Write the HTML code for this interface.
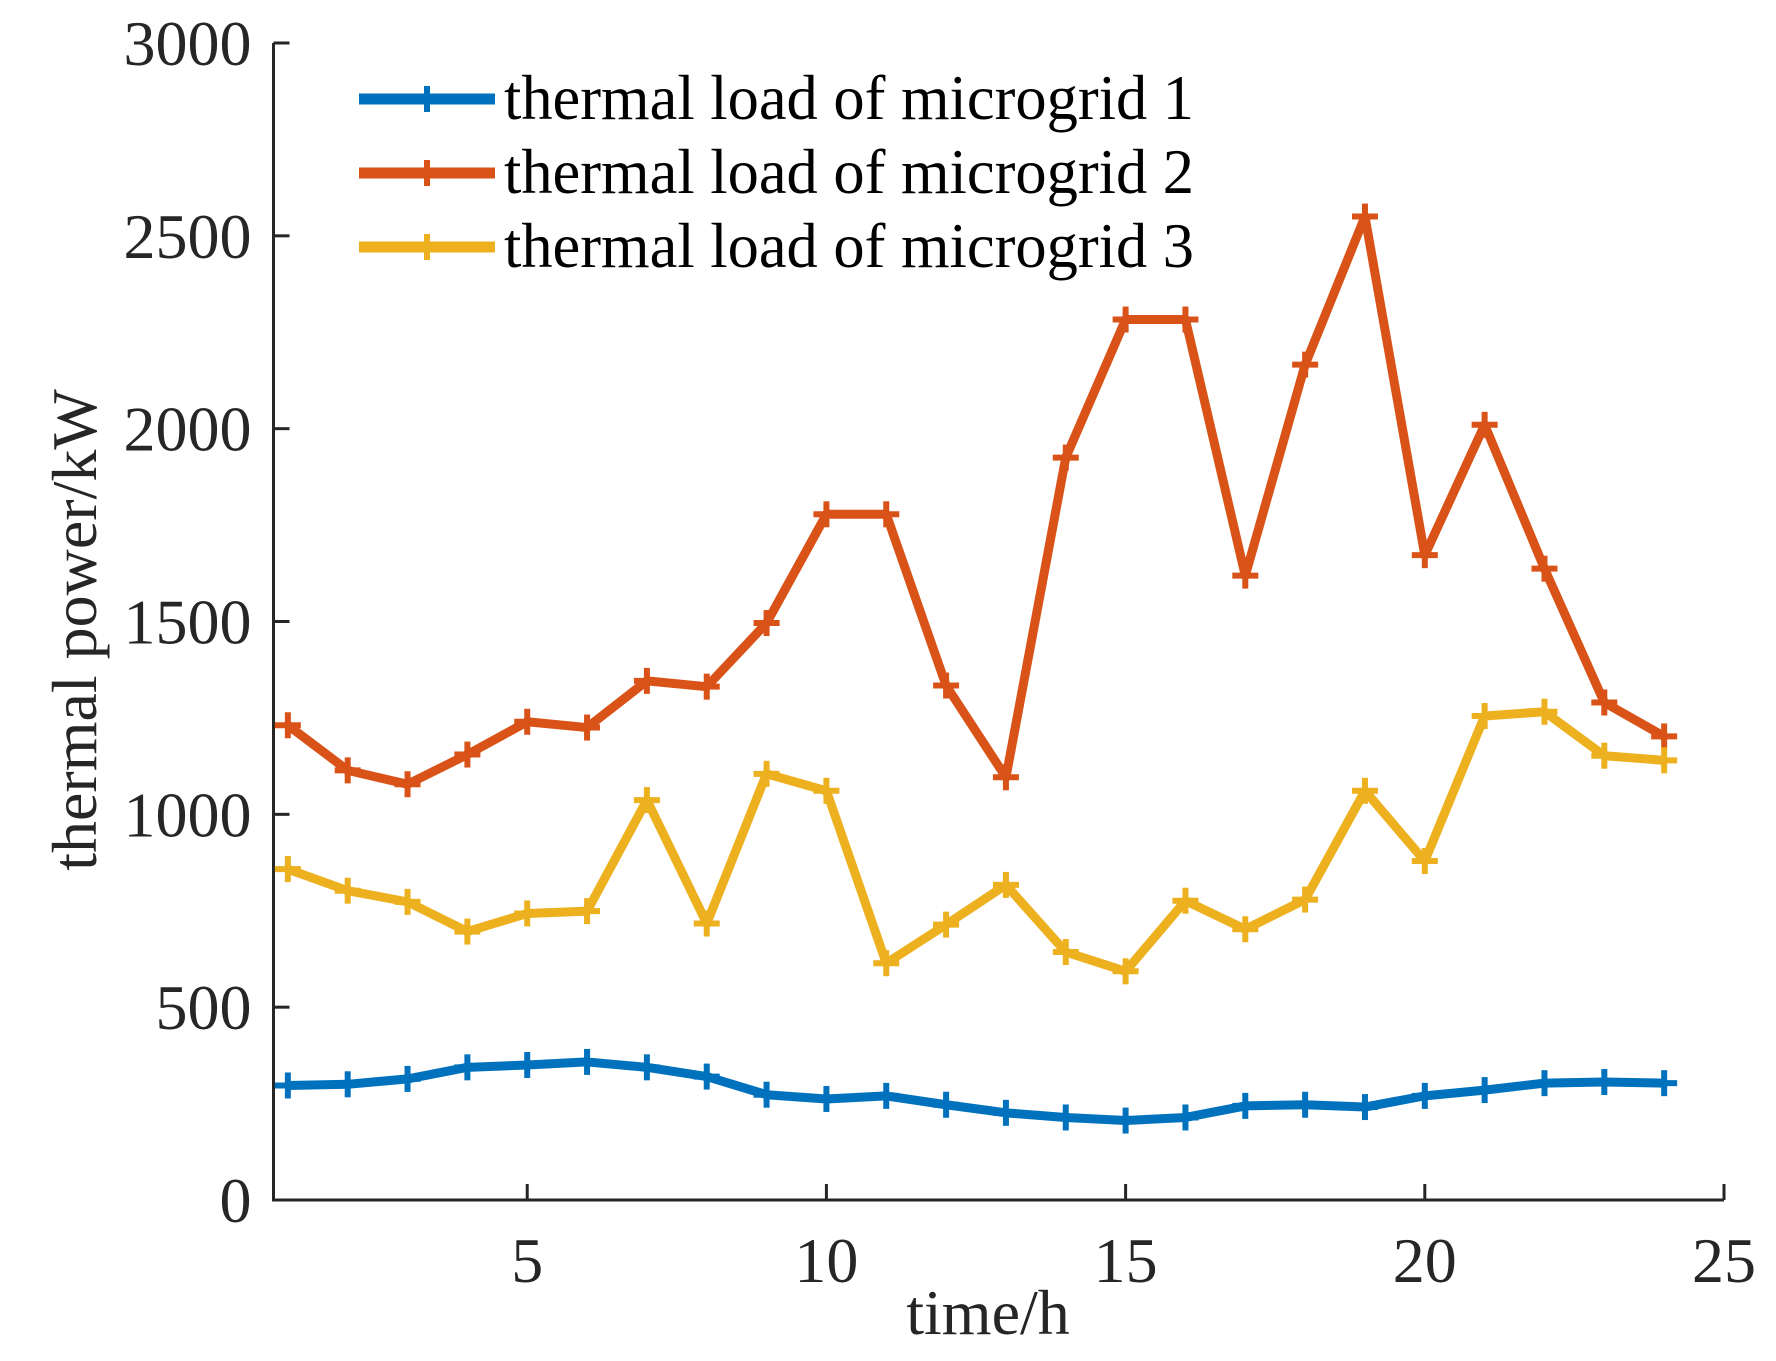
<!DOCTYPE html>
<html><head><meta charset="utf-8"><style>
html,body{margin:0;padding:0;background:#fff;}
svg{display:block;font-family:"Liberation Serif",serif;}
</style></head><body>
<svg id="chart" width="1776" height="1361" viewBox="0 0 1776 1361"></svg>
<script>
const hours=[1,2,3,4,5,6,7,8,9,10,11,12,13,14,15,16,17,18,19,20,21,22,23,24];
const mg1=[297,300,314,344,350,358,344,320,273,262,270,247,226,214,206,214,244,247,241,270,285,303,306,303];
const mg2=[1231,1114,1078,1155,1240,1225,1346,1331,1496,1778,1778,1334,1096,1925,2283,2283,1619,2166,2550,1672,2010,1637,1290,1202];
const mg3=[858,802,773,696,743,749,1037,717,1105,1061,614,714,817,643,593,776,702,779,1061,879,1255,1266,1152,1140];
const xTicks=[5,10,15,20,25];
const yTicks=[0,500,1000,1500,2000,2500,3000];
const seriesNames=["thermal load of microgrid 1","thermal load of microgrid 2","thermal load of microgrid 3"];
const colors=["#0072BD","#D95319","#EDB120"];

const NS="http://www.w3.org/2000/svg";
const svg=document.getElementById('chart');
const L=273.5,R=1724,T=43,B=1200;
const xMin=0.76,xMax=25,yMin=0,yMax=3000;
const sx=v=>L+(v-xMin)/(xMax-xMin)*(R-L);
const sy=v=>B-(v-yMin)/(yMax-yMin)*(B-T);
function mk(tag,attrs,parent){const e=document.createElementNS(NS,tag);for(const k in attrs)e.setAttribute(k,attrs[k]);(parent||svg).appendChild(e);return e;}

const ax=mk('g',{});


mk('line',{x1:L,y1:T,x2:L,y2:B+1.5,stroke:'#262626','stroke-width':3},ax);
mk('line',{x1:L,y1:B,x2:R,y2:B,stroke:'#262626','stroke-width':3},ax);
yTicks.forEach(v=>{
  const y=sy(v);
  mk('line',{x1:L,y1:y,x2:L+16,y2:y,stroke:'#262626','stroke-width':3},ax);
  const t=mk('text',{x:L-22,y:y+22,'text-anchor':'end','font-size':64,fill:'#262626'},ax);
  t.textContent=v;
  
  
});
xTicks.forEach(v=>{
  const x=sx(v);
  mk('line',{x1:x,y1:B,x2:x,y2:B-16,stroke:'#262626','stroke-width':3},ax);
  const t=mk('text',{x:x,y:1282,'text-anchor':'middle','font-size':64,fill:'#262626'},ax);
  t.textContent=v;
  
  
});
const xl=mk('text',{x:988,y:1334,'text-anchor':'middle','font-size':64,fill:'#262626'});
xl.textContent='time/h';


const yl=mk('text',{x:0,y:0,'text-anchor':'middle','font-size':64,fill:'#262626',transform:'translate(96,630) rotate(-90)'});
yl.textContent='thermal power/kW';



function plus(g,x,y,c){
  mk('line',{x1:x-13,y1:y,x2:x+13,y2:y,stroke:c,'stroke-width':6},g);
  mk('line',{x1:x,y1:y-13,x2:x,y2:y+13,stroke:c,'stroke-width':6},g);
}
[mg1,mg2,mg3].forEach((data,i)=>{
  const g=mk('g',{});
  
  
  const pts=data.map((v,j)=>sx(hours[j])+','+sy(v)).join(' ');
  mk('polyline',{points:pts,fill:'none',stroke:colors[i],'stroke-width':9,'stroke-linejoin':'round'},g);
  data.forEach((v,j)=>plus(g,sx(hours[j]),sy(v),colors[i]));
});

const lg=mk('g',{});


const ly=[99,173,247];
seriesNames.forEach((n,i)=>{
  const e=mk('g',{},lg);
  
  
  mk('line',{x1:359,y1:ly[i],x2:495,y2:ly[i],stroke:colors[i],'stroke-width':11},e);
  plus(e,427,ly[i],colors[i]);
  const t=mk('text',{x:504,y:ly[i]+20,'font-size':64,fill:'#000',textLength:690,lengthAdjust:'spacingAndGlyphs'},e);
  t.textContent=n;
});
</script>
</body></html>
